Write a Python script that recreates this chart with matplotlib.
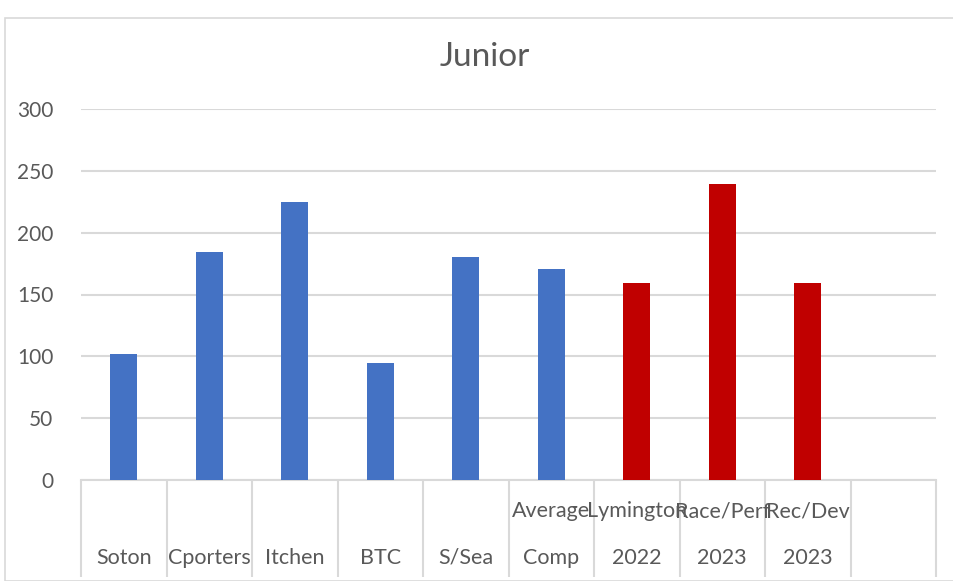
import matplotlib
matplotlib.use("Agg")
import matplotlib.pyplot as plt
from matplotlib.patches import Rectangle
import matplotlib.transforms as mtransforms

# ---- data ----
labels_top = ["", "", "", "", "", "Average", "Lymington", "Race/Perf", "Rec/Dev", ""]
labels_bottom = ["Soton", "Cporters", "Itchen", "BTC", "S/Sea", "Comp", "2022", "2023", "2023", ""]
values = [102, 184, 225, 95, 180, 171, 159, 239, 159, None]
groups = ["club", "club", "club", "club", "club", "club", "target", "target", "target", "none"]
yticks = [0, 50, 100, 150, 200, 250, 300]
title = "Junior"

colors = {"club": "#4472C4", "target": "#C00000", "none": "#FFFFFF"}
FONT = ["Lato", "DejaVu Sans"]
TXT = "#595959"
W, H = 954, 581

fig = plt.figure(figsize=(W / 100, H / 100), dpi=100)
fig.patch.set_facecolor("white")

# chart border
fig.add_artist(Rectangle((5 / W, 0), (W - 4) / W, (H - 18) / H, transform=fig.transFigure,
                         fill=False, edgecolor="#D9D9D9", linewidth=1.2))

ax = fig.add_axes([81 / W, 1 - 480 / H, (936 - 81) / W, (480 - 109) / H])
n = len(labels_bottom)
xs = list(range(n))
for x, v, g in zip(xs, values, groups):
    if v is not None:
        ax.bar(x, v, width=0.32, color=colors[g], zorder=3)

ax.set_xlim(-0.5, n - 0.5)
ax.set_ylim(0, 300)
ax.set_yticks(yticks)
ax.set_yticklabels([str(t) for t in yticks], fontsize=15, color=TXT, family=FONT)
ax.tick_params(axis="y", length=0, pad=20)
ax.yaxis.grid(True, color="#D9D9D9", linewidth=1.5, zorder=0)
for s in ["top", "right", "left"]:
    ax.spines[s].set_visible(False)
ax.spines["bottom"].set_color("#D9D9D9")
ax.spines["bottom"].set_linewidth(1.5)

# category divider ticks
ax.set_xticks([i - 0.5 for i in range(n + 1)])
ax.set_xticklabels([])
ax.tick_params(axis="x", direction="out", length=70, width=1.5, color="#D9D9D9")

trans = mtransforms.blended_transform_factory(ax.transData, fig.transFigure)
for x, t, b in zip(xs, labels_top, labels_bottom):
    if t:
        ax.text(x, 1 - 511 / H, t, transform=trans, ha="center", va="center",
                fontsize=15.5, color=TXT, family=FONT)
    if b:
        ax.text(x, 1 - 558 / H, b, transform=trans, ha="center", va="center",
                fontsize=15.5, color=TXT, family=FONT)

fig.text(485 / W, 1 - 57 / H, title, ha="center", va="center", fontsize=24,
         color=TXT, family=FONT)

fig.savefig("out.png", dpi=100)
